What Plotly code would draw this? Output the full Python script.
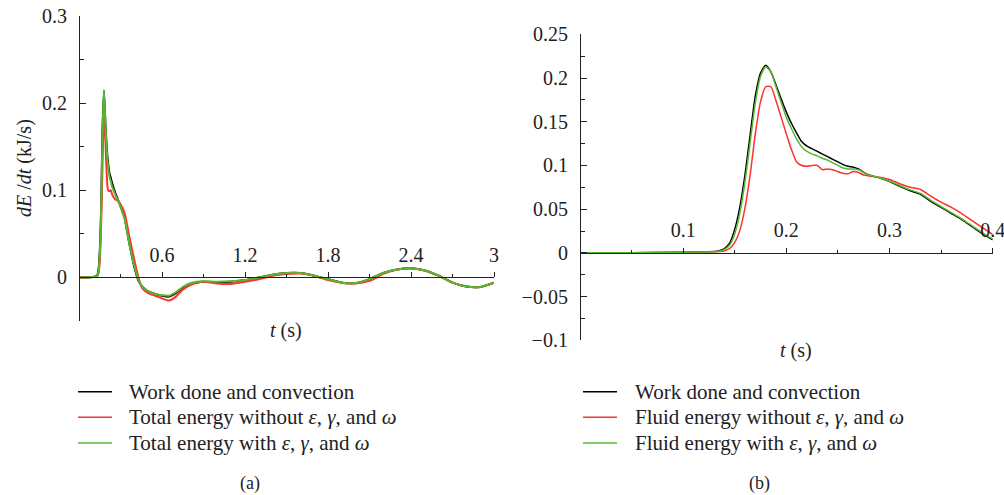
import plotly.graph_objects as go

# ---------------- Panel (a) data ----------------
t_a = [0, 0.1, 0.13, 0.14, 0.15, 0.16, 0.17, 0.18, 0.19, 0.2, 0.21, 0.22, 0.23, 0.24, 0.26, 0.28, 0.3,
       0.33, 0.36, 0.4, 0.43, 0.46, 0.5, 0.55, 0.6, 0.65, 0.7, 0.75, 0.8, 0.85, 0.9, 1.0, 1.1, 1.2,
       1.3, 1.4, 1.5, 1.6, 1.7, 1.8, 1.9, 2.0, 2.1, 2.2, 2.3, 2.4, 2.5, 2.6, 2.7, 2.8, 2.9, 3.0]
work_a = [0, 0.0005, 0.002, 0.008, 0.03, 0.08, 0.17, 0.214, 0.18, 0.15, 0.132, 0.12, 0.114, 0.108, 0.098, 0.09, 0.082,
          0.068, 0.042, 0.012, -0.004, -0.011, -0.016, -0.019, -0.021, -0.022, -0.018, -0.012, -0.008, -0.006, -0.005, -0.0055, -0.005, -0.003,
          0.0, 0.003, 0.005, 0.005, 0.002, -0.002, -0.006, -0.0065, -0.002, 0.005, 0.009, 0.0105, 0.008, 0.002, -0.006, -0.0105, -0.011, -0.006]
without_a = [0, 0.0005, 0.001, 0.004, 0.018, 0.06, 0.13, 0.19, 0.16, 0.12, 0.1, 0.099, 0.1, 0.095, 0.09, 0.088, 0.084,
             0.074, 0.05, 0.02, 0.0, -0.013, -0.018, -0.021, -0.024, -0.0265, -0.022, -0.014, -0.009, -0.006, -0.005, -0.007, -0.0075, -0.005,
             -0.002, 0.002, 0.004, 0.0045, 0.002, -0.003, -0.006, -0.007, -0.004, 0.004, 0.009, 0.0105, 0.008, 0.002, -0.006, -0.0105, -0.011, -0.006]
with_a = [0, 0.0005, 0.0015, 0.006, 0.025, 0.075, 0.165, 0.215, 0.18, 0.148, 0.128, 0.116, 0.11, 0.104, 0.096, 0.089, 0.081,
          0.067, 0.042, 0.013, -0.003, -0.011, -0.016, -0.019, -0.0205, -0.021, -0.017, -0.011, -0.007, -0.005, -0.0045, -0.005, -0.0045, -0.003,
          0.0, 0.003, 0.005, 0.005, 0.002, -0.002, -0.006, -0.0065, -0.002, 0.005, 0.009, 0.0105, 0.008, 0.002, -0.006, -0.0105, -0.011, -0.006]

# ---------------- Panel (b) data ----------------
t_b = [0, 0.05, 0.1, 0.12, 0.13, 0.135, 0.14, 0.145, 0.15, 0.155, 0.16, 0.165, 0.17, 0.175, 0.18, 0.185, 0.19,
       0.195, 0.2, 0.205, 0.21, 0.215, 0.22, 0.225, 0.23, 0.235, 0.24, 0.245, 0.25, 0.255, 0.26, 0.265, 0.27,
       0.275, 0.28, 0.29, 0.3, 0.31, 0.32, 0.33, 0.34, 0.35, 0.36, 0.37, 0.38, 0.39, 0.4]
work_b = [0, 0.0002, 0.0008, 0.0012, 0.0015, 0.0025, 0.005, 0.011, 0.027, 0.053, 0.09, 0.136, 0.18, 0.206, 0.2145, 0.207, 0.192,
          0.176, 0.161, 0.148, 0.137, 0.127, 0.122, 0.119, 0.116, 0.113, 0.11, 0.107, 0.104, 0.101, 0.099, 0.098, 0.096,
          0.092, 0.089, 0.086, 0.0815, 0.076, 0.071, 0.067, 0.059, 0.052, 0.045, 0.038, 0.03, 0.022, 0.015]
without_b = [0, 0.0002, 0.0006, 0.001, 0.0012, 0.0015, 0.0025, 0.005, 0.012, 0.026, 0.052, 0.09, 0.137, 0.173, 0.19, 0.19, 0.174,
             0.155, 0.136, 0.118, 0.104, 0.1, 0.099, 0.1, 0.1, 0.095, 0.096, 0.095, 0.093, 0.091, 0.0905, 0.093, 0.092,
             0.089, 0.088, 0.0865, 0.084, 0.079, 0.075, 0.0725, 0.065, 0.058, 0.052, 0.045, 0.037, 0.029, 0.021]
with_b = [0, 0.0002, 0.0007, 0.0011, 0.0014, 0.002, 0.004, 0.009, 0.022, 0.046, 0.082, 0.127, 0.172, 0.202, 0.213, 0.207, 0.19,
          0.172, 0.155, 0.142, 0.13, 0.121, 0.116, 0.113, 0.111, 0.108, 0.106, 0.103, 0.1, 0.097, 0.096, 0.096, 0.095,
          0.092, 0.089, 0.086, 0.082, 0.077, 0.072, 0.068, 0.06, 0.053, 0.046, 0.039, 0.031, 0.023, 0.016]

names_a = ["Work done and convection",
           "Total energy without <i>ε</i>, <i>γ</i>, and <i>ω</i>",
           "Total energy with <i>ε</i>, <i>γ</i>, and <i>ω</i>"]
names_b = ["Work done and convection",
           "Fluid energy without <i>ε</i>, <i>γ</i>, and <i>ω</i>",
           "Fluid energy with <i>ε</i>, <i>γ</i>, and <i>ω</i>"]

xticks_a = [0.6, 1.2, 1.8, 2.4, 3]
yticks_a = [0, 0.1, 0.2, 0.3]
xticks_b = [0.1, 0.2, 0.3, 0.4]
yticks_b = [-0.1, -0.05, 0, 0.05, 0.1, 0.15, 0.2, 0.25]
yticklabels_b = ["−0.1", "−0.05", "0", "0.05", "0.1", "0.15", "0.2", "0.25"]

BLACK = "#000000"
RED = "#ff3030"
GREEN = "#55b82e"
COLORS = [BLACK, RED, GREEN]
FONT = "Liberation Serif"
INK = "#222"

W, H = 1004, 495

def px_x(p):
    return p / W

def px_y(p):
    return 1 - p / H

fig = go.Figure()

for y, name, col in zip([work_a, without_a, with_a], names_a, COLORS):
    fig.add_trace(go.Scatter(x=t_a, y=y, name=name, mode="lines", showlegend=False,
                             line=dict(color=col, width=2, shape="spline", smoothing=0.6),
                             xaxis="x", yaxis="y"))
for y, name, col in zip([work_b, without_b, with_b], names_b, COLORS):
    fig.add_trace(go.Scatter(x=t_b, y=y, name=name, mode="lines", showlegend=False,
                             line=dict(color=col, width=1.5, shape="spline", smoothing=0.6),
                             xaxis="x2", yaxis="y2"))

tickfont = dict(family=FONT, size=20, color=INK)

ya_dom = [px_y(321), px_y(16)]
yb_dom = [px_y(340.3), px_y(34.3)]

axis_common = dict(showgrid=False, zeroline=False, showline=True, linecolor=INK, linewidth=1.2,
                   tickcolor=INK, tickwidth=1.2, tickfont=tickfont, automargin=False,
                   ticklabeloverflow="allow")

fig.update_layout(
    width=W, height=H,
    margin=dict(l=0, r=0, t=0, b=0),
    plot_bgcolor="white", paper_bgcolor="white",
    font=dict(family=FONT, size=20, color=INK),
    showlegend=False,
    xaxis=dict(domain=[px_x(79), px_x(494)], range=[0, 3], anchor="free",
               position=px_y(277), side="top", ticks="outside", ticklen=5,
               tickmode="array", tickvals=xticks_a, ticklabelstandoff=2,
               minor=dict(dtick=0.3, tick0=0, ticks="outside", ticklen=3, tickcolor=INK),
               **axis_common),
    yaxis=dict(domain=ya_dom, range=[-0.05, 0.3], anchor="free", position=px_x(79),
               ticks="inside", ticklen=6, tickmode="array", tickvals=yticks_a,
               ticklabelstandoff=8,
               minor=dict(dtick=0.05, tick0=0, ticks="inside", ticklen=4, tickcolor=INK),
               **axis_common),
    xaxis2=dict(domain=[px_x(580), px_x(992.7)], range=[0, 0.4], anchor="free",
                position=px_y(253), side="top", ticks="outside", ticklen=5,
                tickmode="array", tickvals=xticks_b, ticklabelstandoff=3,
                minor=dict(dtick=0.05, tick0=0, ticks="outside", ticklen=3, tickcolor=INK),
                **axis_common),
    yaxis2=dict(domain=yb_dom, range=[-0.1, 0.25], anchor="free", position=px_x(580),
                ticks="inside", ticklen=6, tickmode="array", tickvals=yticks_b,
                ticktext=yticklabels_b, ticklabelstandoff=8,
                minor=dict(dtick=0.025, tick0=0, ticks="inside", ticklen=4, tickcolor=INK),
                **axis_common),
)

ann_font = dict(family=FONT, size=20, color=INK)
fig.add_annotation(x=px_x(25), y=px_y(168), xref="paper", yref="paper", showarrow=False,
                   xanchor="center", yanchor="middle",
                   text="<i>dE</i> /<i>dt</i> (kJ/s)", textangle=-90, font=ann_font)
fig.add_annotation(x=px_x(286), y=px_y(330), xref="paper", yref="paper", showarrow=False,
                   xanchor="center", yanchor="middle", text="<i>t</i> (s)", font=ann_font)
fig.add_annotation(x=px_x(796), y=px_y(350), xref="paper", yref="paper", showarrow=False,
                   xanchor="center", yanchor="middle", text="<i>t</i> (s)", font=ann_font)
fig.add_annotation(x=px_x(250), y=px_y(483), xref="paper", yref="paper", showarrow=False,
                   xanchor="center", yanchor="middle", text="(a)",
                   font=dict(family=FONT, size=18, color=INK))
fig.add_annotation(x=px_x(759), y=px_y(483), xref="paper", yref="paper", showarrow=False,
                   xanchor="center", yanchor="middle", text="(b)",
                   font=dict(family=FONT, size=18, color=INK))

# legends (key line + label per series)
legend_rows = [391.7, 417.3, 443.0]
for names, x0, x1, xt in [(names_a, 78, 112, 127), (names_b, 583, 617, 633)]:
    for name, col, yr in zip(names, COLORS, legend_rows):
        fig.add_shape(type="line", xref="paper", yref="paper",
                      x0=px_x(x0), x1=px_x(x1), y0=px_y(yr), y1=px_y(yr),
                      line=dict(color=col, width=1.5))
        fig.add_annotation(x=px_x(xt), y=px_y(yr), xref="paper", yref="paper", showarrow=False,
                           xanchor="left", yanchor="middle", text=name,
                           font=dict(family=FONT, size=21, color=INK))

fig.write_html("out.html", config={"displayModeBar": False},
               post_script="document.body.style.margin='0';document.body.style.overflow='hidden';")
